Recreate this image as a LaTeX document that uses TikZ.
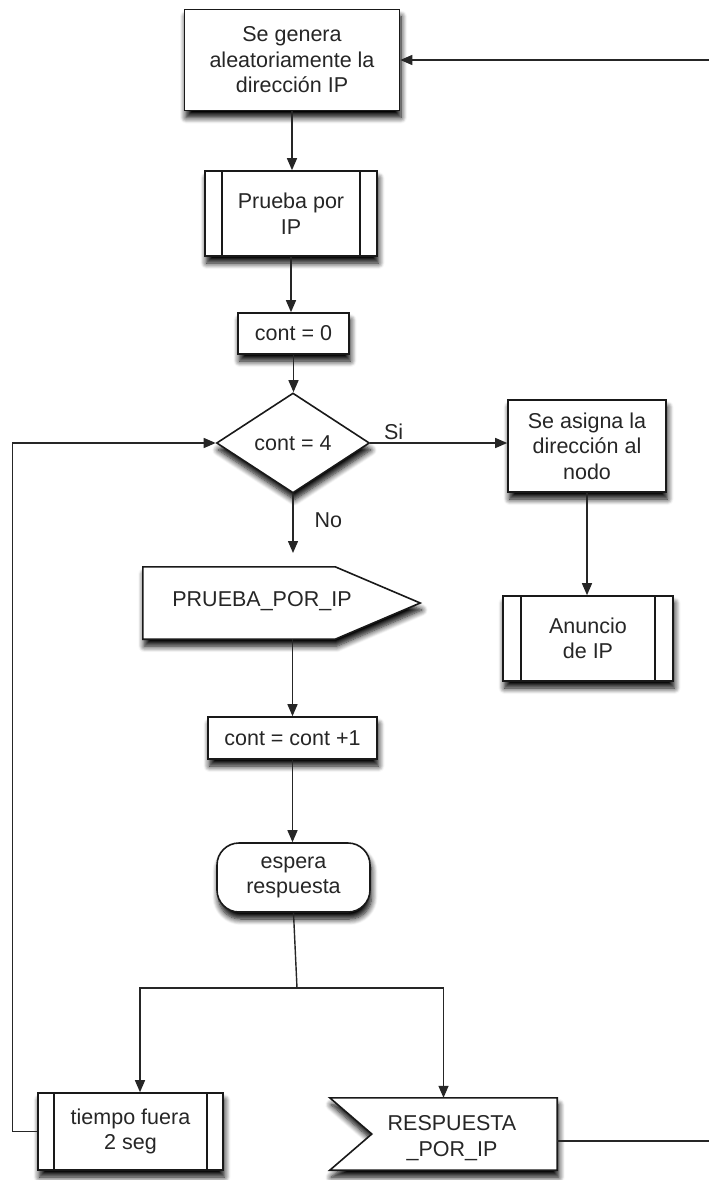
\documentclass[tikz,border=0pt]{standalone}
\usepackage{fontspec}
\setmainfont{Liberation Sans}
\usetikzlibrary{arrows.meta,shapes.geometric,shadows.blur,calc}
\begin{document}
\begin{tikzpicture}[x=1pt,y=-1pt,
  every node/.style={font=\fontsize{21.5}{25.5}\selectfont, text=black!85, align=center, inner sep=0pt},
  softshadow/.style={blur shadow={shadow xshift=1.5pt, shadow yshift=-7pt, shadow blur radius=6pt, shadow blur steps=8, shadow opacity=100}},
  outline/.style={draw=black!90, line width=1.6pt, fill=white, softshadow},
  block/.style={outline, rectangle},
  procbox/.style={block, path picture={
      \draw[black!90, line width=1.6pt]
        ([xshift=#1]path picture bounding box.north west) -- ([xshift=#1]path picture bounding box.south west)
        ([xshift=-#1]path picture bounding box.north east) -- ([xshift=-#1]path picture bounding box.south east);}},
  procbox/.default=17pt,
  conn/.style={draw=black!85, line width=1.4pt},
  arr/.style={conn, -{Triangle[length=12pt,width=10pt]}},
]
\path[use as bounding box] (0,0) rectangle (709,1180);

% main column
\node[block, minimum width=215pt, minimum height=101pt] (gen) at (292,60) {Se genera\\aleatoriamente la\\dirección IP};
\node[procbox, minimum width=172pt, minimum height=85pt] (prueba) at (291,213.5) {Prueba por\\IP};
\node[block, minimum width=111pt, minimum height=41pt] (c0) at (293.5,333.5) {cont = 0};
\node[outline, diamond, aspect=1.5, minimum width=153pt, minimum height=100pt] (dec) at (293,443) {cont = 4};

% right branch
\node[block, minimum width=158pt, minimum height=92pt] (asig) at (587,446) {Se asigna la\\dirección al\\nodo};
\node[procbox=18pt, minimum width=170pt, minimum height=85pt] (anun) at (588,638.5) {Anuncio\\de IP};

% send-signal shape
\node[minimum width=277pt, minimum height=72pt] (sig) at (281.5,603) {};
\draw[outline] (sig.north west) -- ([xshift=-85pt]sig.north east) -- (sig.east)
  -- ([xshift=-85pt]sig.south east) -- (sig.south west) -- cycle;
\node (sigtxt) at (262,601) {PRUEBA\_POR\_IP};

\node[block, minimum width=169pt, minimum height=42pt] (c1) at (292.5,738) {cont = cont +1};
\node[block, rounded corners=22pt, minimum width=153pt, minimum height=69pt] (esp) at (293.5,877.5) {espera\\respuesta};

% bottom row
\node[procbox=16pt, minimum width=185pt, minimum height=77pt] (tiempo) at (130.5,1131.5) {tiempo fuera\\2 seg};
\node[minimum width=227pt, minimum height=72pt] (resp) at (443.5,1134) {};
\draw[outline] (resp.north west) -- (resp.north east) -- (resp.south east)
  -- (resp.south west) -- ([xshift=42pt]resp.west) -- cycle;
\node (resptxt) at (452,1138) {RESPUESTA\\\_POR\_IP};

% connectors
\draw[arr] (gen.south) -- (gen.south |- prueba.north);
\draw[arr] (prueba.south) -- (prueba.south |- c0.north);
\draw[arr] (c0.south) -- (c0.south |- dec.north);
\coordinate (nohead) at (293,553);
\draw[arr] (dec.south) -- (nohead) node[pos=0.45, anchor=west, xshift=21pt] {No};
\draw[arr] (dec.east) -- (dec.east -| asig.west) node[pos=0.17, anchor=south, yshift=3pt] {Si};
\draw[arr] (asig.south) -- (asig.south |- anun.north);
\draw[arr] (sig.south -| c1.north) -- (c1.north);
\draw[arr] (c1.south) -- (c1.south |- esp.north);
\coordinate (fork) at (297,988);
\draw[conn] (esp.south) -- (fork);
\draw[arr] (fork) -| ([xshift=9.5pt]tiempo.north);
\draw[arr] (fork) -| (resp.north);
\draw[arr] (tiempo.west) -- ++(-25,0) |- (dec.west);
\draw[arr] ([yshift=-7pt]resp.east) -- ++(170,0) |- (gen.east);
\end{tikzpicture}
\end{document}
